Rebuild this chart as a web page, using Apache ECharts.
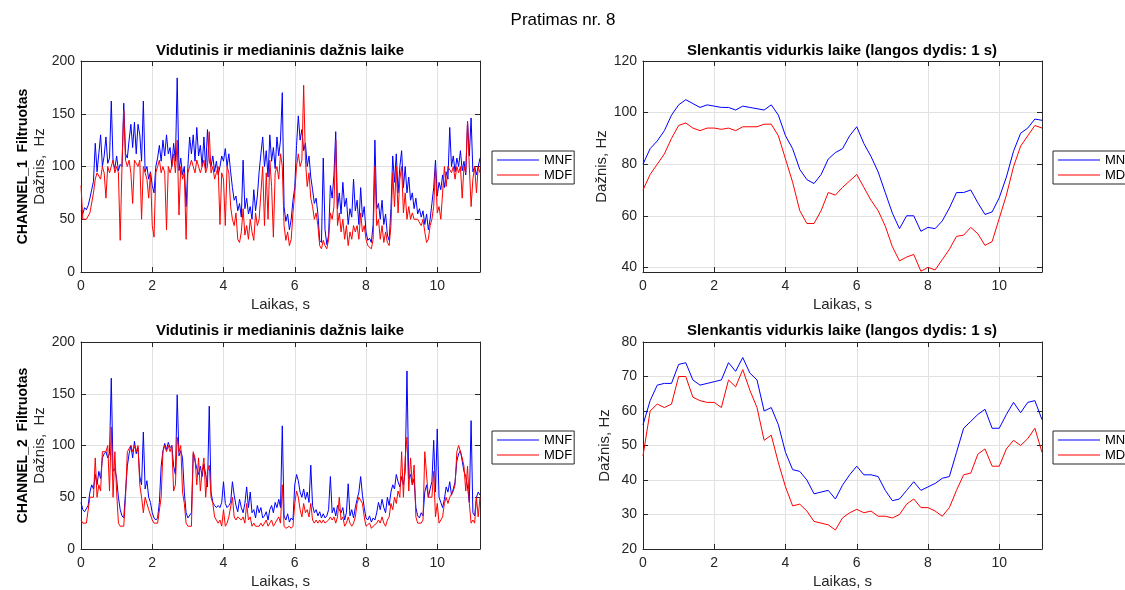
<!DOCTYPE html>
<html>
<head>
<meta charset="utf-8">
<script src="https://cdn.jsdelivr.net/npm/echarts@6/dist/echarts.min.js"></script>
<style>
  html, body { margin: 0; padding: 0; background: #fff; }
  #chart { width: 1125px; height: 590px; }
</style>
</head>
<body>
<div id="chart"></div>
<script>
// time steps of the sampled series (s)
const dtRaw = 0.05;
const dtAvg = 0.2;

// CHANNEL_1, raw MNF / MDF (Hz), one row per second
const ch1Mnf = [
  58, 55, 61, 59, 63, 70, 78, 86, 122, 95, 112, 130, 100, 110, 128, 103, 108, 162, 104, 98,
  110, 96, 102, 100, 160, 112, 108, 125, 140, 118, 142, 112, 140, 130, 105, 162, 95, 100, 88, 95,
  82, 75, 100, 108, 120, 105, 125, 110, 130, 112, 118, 100, 122, 105, 184, 96, 108, 92, 100, 62,
  100, 128, 112, 130, 105, 137, 110, 120, 100, 128, 98, 135, 105, 100, 110, 95, 105, 92, 100, 110,
  105, 117, 100, 112, 95, 80, 68, 72, 58, 65, 52, 106, 60, 70, 55, 62, 50, 78, 58, 72,
  95, 112, 128, 100, 115, 90, 130, 105, 118, 98, 128, 110, 125, 170, 62, 48, 55, 40, 50, 68,
  80, 120, 148, 125, 135, 115, 122, 100, 110, 90, 78, 65, 70, 55, 30, 28, 108, 40, 26, 35,
  82, 70, 92, 133, 60, 75, 55, 85, 62, 70, 45, 60, 52, 88, 58, 68, 45, 80, 52, 62,
  38, 30, 32, 28, 45, 125, 60, 65, 50, 68, 45, 55, 35, 30, 60, 110, 85, 112, 75, 100,
  115, 80, 100, 75, 90, 68, 75, 60, 70, 55, 60, 52, 58, 45, 55, 40, 50, 65, 80, 106,
  72, 85, 78, 92, 80, 95, 88, 137, 100, 110, 95, 108, 100, 115, 96, 105, 92, 143, 110, 146,
  95, 100, 92, 100, 108
];
const ch1Mdf = [
  82, 50, 50, 50, 50, 56, 56, 75, 88, 94, 94, 88, 100, 94, 70, 100, 94, 100, 106, 94,
  100, 94, 30, 100, 153, 106, 100, 106, 94, 65, 106, 106, 100, 106, 50, 100, 94, 88, 70, 94,
  44, 33, 94, 100, 106, 94, 100, 94, 40, 100, 94, 100, 112, 94, 125, 54, 100, 88, 94, 31,
  94, 100, 106, 100, 94, 106, 100, 94, 100, 106, 94, 100, 133, 94, 100, 88, 94, 100, 45, 94,
  88, 44, 100, 94, 62, 50, 44, 56, 31, 28, 38, 60, 35, 44, 31, 50, 38, 30, 56, 44,
  50, 75, 100, 44, 94, 50, 106, 81, 33, 94, 100, 88, 112, 100, 44, 30, 38, 25, 31, 56,
  75, 100, 112, 100, 106, 177, 106, 81, 94, 70, 62, 50, 56, 44, 25, 22, 30, 25, 22, 31,
  56, 50, 62, 125, 44, 56, 38, 50, 31, 44, 25, 38, 31, 44, 38, 44, 31, 56, 38, 44,
  31, 25, 25, 22, 31, 100, 44, 50, 31, 44, 28, 38, 28, 25, 44, 94, 62, 100, 56, 88,
  100, 56, 75, 50, 62, 50, 56, 50, 50, 50, 50, 44, 50, 38, 28, 31, 44, 50, 62, 100,
  56, 62, 50, 75, 100, 81, 100, 100, 94, 100, 88, 100, 94, 100, 70, 100, 94, 143, 100, 62,
  88, 100, 75, 100, 94
];

// CHANNEL_2, raw MNF / MDF (Hz)
const ch2Mnf = [
  45, 38, 36, 36, 42, 55, 62, 58, 72, 62, 75, 68, 88, 92, 94, 88, 92, 165, 75, 78,
  68, 50, 38, 32, 30, 55, 80, 92, 100, 88, 104, 92, 98, 70, 62, 113, 58, 66, 50, 45,
  35, 30, 28, 30, 45, 80, 95, 102, 96, 103, 98, 100, 80, 72, 149, 90, 95, 88, 55, 35,
  30, 30, 35, 92, 85, 78, 72, 80, 70, 82, 72, 60, 138, 55, 45, 42, 40, 42, 40, 45,
  65, 44, 40, 42, 45, 65, 52, 42, 36, 48, 40, 35, 44, 60, 40, 55, 35, 38, 30, 42,
  35, 40, 30, 32, 36, 28, 38, 42, 35, 45, 40, 48, 40, 119, 32, 28, 34, 26, 30, 28,
  62, 72, 66, 55, 50, 58, 48, 55, 45, 81, 42, 35, 38, 32, 36, 30, 34, 30, 32, 38,
  70, 35, 40, 32, 42, 38, 35, 40, 28, 35, 63, 32, 38, 30, 40, 48, 55, 70, 52, 40,
  30, 28, 32, 26, 30, 28, 35, 45, 38, 48, 40, 35, 50, 42, 55, 62, 58, 72, 65, 60,
  70, 62, 75, 172, 68, 72, 62, 68, 40, 32, 30, 35, 32, 55, 62, 50, 58, 65, 105, 55,
  116, 50, 45, 40, 48, 60, 55, 65, 52, 58, 65, 85, 92, 95, 85, 75, 70, 60, 45, 124,
  35, 32, 50, 55, 52
];
const ch2Mdf = [
  28, 25, 25, 25, 25, 50, 50, 50, 88, 50, 62, 56, 94, 94, 94, 100, 56, 118, 50, 94,
  55, 25, 22, 22, 22, 50, 94, 94, 100, 94, 100, 94, 100, 62, 50, 35, 50, 44, 38, 38,
  28, 25, 25, 25, 25, 50, 94, 100, 94, 100, 94, 100, 56, 62, 108, 94, 100, 55, 44, 25,
  22, 22, 22, 94, 88, 62, 88, 56, 75, 88, 50, 75, 81, 50, 44, 31, 28, 25, 28, 22,
  38, 22, 25, 31, 31, 50, 31, 28, 31, 31, 28, 31, 25, 44, 28, 31, 22, 25, 22, 22,
  22, 25, 22, 22, 28, 22, 25, 28, 22, 25, 28, 31, 25, 62, 22, 20, 20, 22, 20, 22,
  44, 56, 50, 38, 31, 44, 35, 38, 31, 44, 28, 25, 28, 25, 28, 25, 28, 25, 25, 28,
  31, 28, 31, 25, 31, 50, 28, 31, 22, 25, 31, 25, 22, 25, 31, 44, 50, 50, 44, 31,
  22, 22, 25, 20, 22, 22, 25, 28, 25, 31, 25, 22, 28, 31, 44, 38, 50, 44, 56, 50,
  94, 50, 88, 108, 56, 88, 62, 81, 31, 25, 25, 25, 28, 94, 94, 50, 50, 50, 75, 31,
  44, 25, 25, 31, 44, 50, 44, 50, 50, 56, 62, 94, 100, 101, 88, 80, 56, 80, 44, 25,
  28, 25, 50, 31, 50
];

// moving averages, window 1 s (Hz), every 0.2 s
const ch1MnfAvg = [80, 86, 89, 93, 99, 103, 105, 103.5, 102, 103, 102.5, 102, 102, 101, 102.5, 102, 101.5, 101, 103, 99,
  91, 86, 78, 74, 72.5, 76, 82, 84.5, 86, 91, 94.5, 88, 83, 77, 69, 61, 55, 60, 60, 54,
  55.5, 55, 58, 63, 69, 69, 70, 65, 60.5, 61.5, 67, 75, 85, 92, 94, 97.5, 97];
const ch1MdfAvg = [70, 76, 80, 84, 90, 95, 96, 94, 93, 94, 94, 93.5, 94, 93, 94.5, 94.5, 94.5, 95.5, 95.5, 91,
  82, 73, 62, 57, 57, 62, 69, 68, 71, 73.5, 76, 71, 66, 62, 56, 48, 42.5, 44, 45, 38.5,
  40, 39, 43, 47, 52, 52.5, 55.5, 53, 48.5, 50, 59, 68, 79, 87, 91, 95, 94];
const ch2MnfAvg = [56, 63, 67.5, 68, 68, 73.5, 74, 69, 67.5, 68, 68.5, 69, 74, 71.5, 75.5, 71, 69, 60, 61, 56,
  48, 43, 42.5, 40, 36, 36.5, 37, 34.5, 38.5, 41.5, 44, 41.5, 41.5, 41, 37, 34, 34.5, 37, 39.5, 37,
  38, 39, 40.5, 41, 48, 55, 57, 59, 60.5, 55, 55, 59, 62.5, 59.5, 62.5, 63, 57.5];
const ch2MdfAvg = [47, 60, 62, 61, 62, 70, 70, 64, 63, 62.5, 62.5, 61, 69, 67, 72, 66, 61, 51.5, 53, 45,
  38, 32.5, 33, 31, 28, 27.5, 27, 25.5, 29, 30.5, 31.5, 30.5, 31, 29.5, 29.5, 29, 30, 33, 34.5, 32,
  32, 31, 29.5, 32, 37, 41.5, 42, 47.5, 49, 44, 44, 49, 51.5, 50, 52, 55, 48];

const xTicks = [0, 2, 4, 6, 8, 10];
const yTicksRaw = [0, 50, 100, 150, 200];
const yTicksAvg1 = [40, 60, 80, 100, 120];
const yTicksAvg2 = [20, 30, 40, 50, 60, 70, 80];

const font = '"Liberation Sans", Arial, Helvetica, sans-serif';
const ink = '#262626';
const gridLine = '#e2e2e2';

const toPairs = (vals, step) => vals.map((v, i) => [Math.round(i * step * 100) / 100, v]);

const grids = [
  { left: 81, top: 61, width: 399, height: 211 },
  { left: 643, top: 61, width: 399, height: 211 },
  { left: 81, top: 342, width: 399, height: 212 },
  { left: 643, top: 342, width: 399, height: 212 }
];

function xAxesFor(gi) {
  const tick = { show: true, inside: true, length: 5, customValues: xTicks, lineStyle: { color: ink } };
  const line = { show: true, onZero: false, lineStyle: { color: ink, width: 1 } };
  return [
    {
      type: 'value', gridIndex: gi, position: 'bottom', min: 0, max: 11.2,
      axisLine: line, axisTick: tick,
      axisLabel: { customValues: xTicks, color: ink, fontSize: 14, fontFamily: font, margin: 7 },
      splitLine: { show: true, lineStyle: { color: gridLine } },
      name: 'Laikas, s', nameLocation: 'middle', nameGap: 25,
      nameTextStyle: { color: ink, fontSize: 15, fontFamily: font }
    },
    {
      type: 'value', gridIndex: gi, position: 'top', min: 0, max: 11.2,
      axisLine: line, axisTick: tick, axisLabel: { show: false }, splitLine: { show: false }
    }
  ];
}

function yAxesFor(gi, min, max, ticks, name, rich) {
  const tick = { show: true, inside: true, length: 5, customValues: ticks, lineStyle: { color: ink } };
  const line = { show: true, onZero: false, lineStyle: { color: ink, width: 1 } };
  return [
    {
      type: 'value', gridIndex: gi, position: 'left', min: min, max: max,
      axisLine: line, axisTick: tick,
      axisLabel: { customValues: ticks, color: ink, fontSize: 14, fontFamily: font, margin: 6 },
      splitLine: { show: true, lineStyle: { color: gridLine } },
      name: name, nameLocation: 'middle', nameGap: 31, nameRotate: 90,
      nameTextStyle: rich
        ? { rich: rich }
        : { color: ink, fontSize: 15, fontFamily: font }
    },
    {
      type: 'value', gridIndex: gi, position: 'right', min: min, max: max,
      axisLine: line, axisTick: tick, axisLabel: { show: false }, splitLine: { show: false }
    }
  ];
}

const chanRich = {
  b: { fontWeight: 'bold', fontSize: 14, fontFamily: font, color: '#000', lineHeight: 17 },
  n: { fontSize: 15, fontFamily: font, color: ink, lineHeight: 17 }
};

const xAxis = [].concat(xAxesFor(0), xAxesFor(1), xAxesFor(2), xAxesFor(3));
const yAxis = [].concat(
  yAxesFor(0, 0, 200, yTicksRaw, '{b|CHANNEL_1  Filtruotas}\n{n|Dažnis,  Hz}', chanRich),
  yAxesFor(1, 38.2, 120, yTicksAvg1, 'Dažnis, Hz'),
  yAxesFor(2, 0, 200, yTicksRaw, '{b|CHANNEL_2  Filtruotas}\n{n|Dažnis,  Hz}', chanRich),
  yAxesFor(3, 20, 80, yTicksAvg2, 'Dažnis, Hz')
);

function lineSeries(name, color, data, gi) {
  return {
    type: 'line', name: name, data: data,
    xAxisIndex: gi * 2, yAxisIndex: gi * 2,
    showSymbol: false, symbol: 'none', silent: true,
    lineStyle: { color: color, width: 1 }, itemStyle: { color: color }
  };
}

const series = [
  lineSeries('MNF', '#0000ff', toPairs(ch1Mnf, dtRaw), 0),
  lineSeries('MDF', '#ff0000', toPairs(ch1Mdf, dtRaw), 0),
  lineSeries('MNF', '#0000ff', toPairs(ch1MnfAvg, dtAvg), 1),
  lineSeries('MDF', '#ff0000', toPairs(ch1MdfAvg, dtAvg), 1),
  lineSeries('MNF', '#0000ff', toPairs(ch2Mnf, dtRaw), 2),
  lineSeries('MDF', '#ff0000', toPairs(ch2Mdf, dtRaw), 2),
  lineSeries('MNF', '#0000ff', toPairs(ch2MnfAvg, dtAvg), 3),
  lineSeries('MDF', '#ff0000', toPairs(ch2MdfAvg, dtAvg), 3)
];

// plain line swatches, like the MATLAB legend
function legendAt(left, top) {
  return {
    left: left, top: top, orient: 'vertical', selectedMode: false,
    data: ['MNF', 'MDF'], icon: 'rect',
    backgroundColor: '#fff', borderColor: ink, borderWidth: 1, borderRadius: 0,
    padding: [2, 2, 2, 5], itemGap: 1, itemWidth: 42, itemHeight: 1,
    textStyle: { color: '#000', fontSize: 13, lineHeight: 14, fontFamily: font }
  };
}

function subTitle(text, cx, top) {
  return {
    text: text, left: cx, top: top, textAlign: 'center', padding: 0,
    textStyle: { color: '#000', fontSize: 15, fontWeight: 'bold', fontFamily: font }
  };
}

const chart = echarts.init(document.getElementById('chart'), null, { renderer: 'canvas' });
chart.setOption({
  animation: false,
  backgroundColor: '#fff',
  title: [
    { text: 'Pratimas nr. 8', left: 563, top: 12, textAlign: 'center', padding: 0,
      textStyle: { color: '#000', fontSize: 17, fontWeight: 'normal', fontFamily: font } },
    subTitle('Vidutinis ir medianinis dažnis laike', 280, 43),
    subTitle('Slenkantis vidurkis laike (langos dydis: 1 s)', 842, 43),
    subTitle('Vidutinis ir medianinis dažnis laike', 280, 323),
    subTitle('Slenkantis vidurkis laike (langos dydis: 1 s)', 842, 323)
  ],
  legend: [legendAt(492, 151), legendAt(1053, 151), legendAt(492, 431), legendAt(1053, 431)],
  grid: grids.map(g => Object.assign({ containLabel: false }, g)),
  xAxis: xAxis,
  yAxis: yAxis,
  series: series
});
</script>
</body>
</html>
